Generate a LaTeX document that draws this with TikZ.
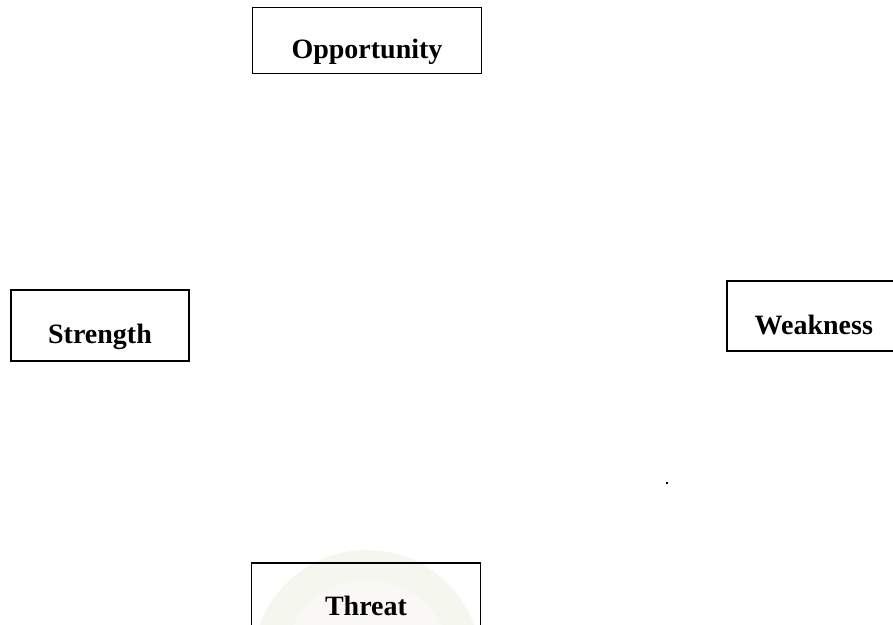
\documentclass[tikz,border=0pt]{standalone}
\usepackage{fontspec}
\setmainfont{Liberation Serif}
\definecolor{wmouter}{RGB}{245,247,238}
\definecolor{wminner}{RGB}{250,248,244}
\begin{document}
\begin{tikzpicture}[x=1pt,y=-1pt,
  box/.style={draw, line width=1.6pt, inner sep=0pt,
    font=\fontsize{28}{32}\selectfont\bfseries,
    text height=36pt, text depth=0pt}]
\useasboundingbox (0,0) rectangle (893,624);
\fill[white] (0,0) rectangle (893,624);
% faint watermark behind Threat
\fill[wmouter] (367,664) circle (114);
\fill[wminner] (367,664) circle (84);
\node[box, minimum width=229pt, minimum height=66pt] (opp) at (367,40.5) {Opportunity};
\node[box, minimum width=178pt, minimum height=71pt] (str) at (100,325.5) {Strength};
\node[box, anchor=west, minimum width=234pt, minimum height=70pt] (weak) at (726,316) {\makebox[174pt]{Weakness}\kern60pt\relax};
\node[box, minimum width=229pt, minimum height=68pt] (thr) at (366,597) {Threat};
\fill[black] (665.5,481.5) rectangle +(2.5,2.5);
\end{tikzpicture}
\end{document}
